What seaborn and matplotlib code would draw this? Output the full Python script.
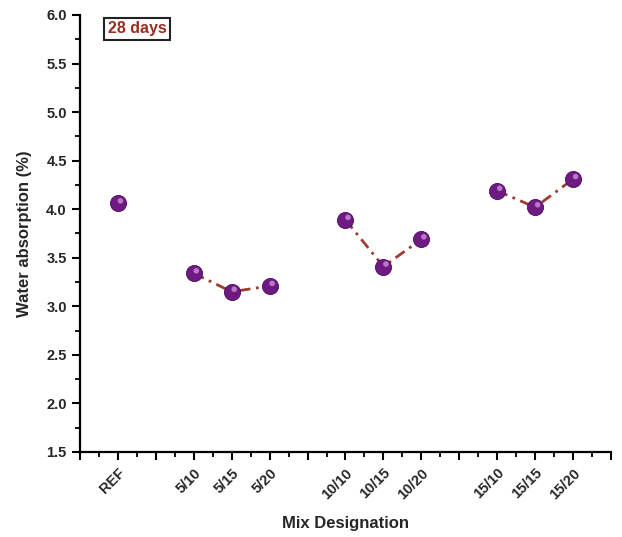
import matplotlib
matplotlib.use("Agg")
import matplotlib.pyplot as plt
import matplotlib.transforms as mtransforms
from matplotlib.ticker import MultipleLocator
import seaborn as sns
import pandas as pd

mixes = ["REF", "5/10", "5/15", "5/20", "10/10", "10/15", "10/20", "15/10", "15/15", "15/20"]
positions = [1, 3, 4, 5, 7, 8, 9, 11, 12, 13]
groups = ["REF", "5", "5", "5", "10", "10", "10", "15", "15", "15"]
absorption = [4.06, 3.34, 3.15, 3.21, 3.89, 3.41, 3.69, 4.19, 4.02, 4.31]

df = pd.DataFrame({"mix": mixes, "pos": positions, "group": groups, "wa": absorption})

sns.set_theme(style="ticks")
plt.rcParams["font.family"] = ["Liberation Sans", "DejaVu Sans"]

fig = plt.figure(figsize=(6.22, 5.37), dpi=100)
ax = fig.add_axes([0.1286, 0.1583, 0.8537, 0.8138])

line_df = df[df["group"] != "REF"]
sns.lineplot(data=line_df, x="pos", y="wa", hue="group", palette=["#9c3d2f"] * 3,
             sort=False, estimator=None, legend=False, ax=ax, linewidth=2.0,
             linestyle=(0, (4, 2, 1, 2)), zorder=2)

sns.scatterplot(data=df, x="pos", y="wa", color="#6e1a82", s=135, edgecolor="#4a0d5a",
                linewidth=0.6, ax=ax, zorder=3, legend=False)
hl = mtransforms.offset_copy(ax.transData, fig=fig, x=1.8, y=1.8, units="points")
ax.scatter(df["pos"], df["wa"], s=16, color="#c88ad6", edgecolor="none", zorder=4,
           transform=hl, alpha=0.85)

ax.set_xlim(0, 14)
ax.set_ylim(1.5, 6.0)
ax.xaxis.set_minor_locator(MultipleLocator(0.5))
ax.yaxis.set_minor_locator(MultipleLocator(0.25))

labels = {p: m for p, m in zip(positions, mixes)}
xt = list(range(0, 15))
ax.set_xticks(xt)
ax.set_xticklabels([labels.get(t, "") for t in xt],
                   rotation=45, ha="right", rotation_mode="anchor", fontsize=10.5, fontweight="bold")
yt = [1.5, 2.0, 2.5, 3.0, 3.5, 4.0, 4.5, 5.0, 5.5, 6.0]
ax.set_yticks(yt)
ax.set_yticklabels([f"{v:.1f}" for v in yt], fontsize=10.5, fontweight="bold")
ax.set_xlim(0, 14)
ax.set_ylim(1.5, 6.0)

ax.tick_params(which="major", direction="out", length=6, width=1.5, color="black")
ax.tick_params(which="minor", direction="out", length=3.5, width=1.3, color="black")
ax.tick_params(axis="x", pad=4)
for s in ["top", "right"]:
    ax.spines[s].set_visible(False)
for s in ["left", "bottom"]:
    ax.spines[s].set_linewidth(1.6)
    ax.spines[s].set_color("black")

ax.set_xlabel("Mix Designation", fontsize=12, fontweight="bold", labelpad=10)
ax.set_ylabel("Water absorption (%)", fontsize=12, fontweight="bold", labelpad=10)

ax.text(0.052, 0.968, "28 days", transform=ax.transAxes, fontsize=11.5, fontweight="bold",
        color="#9b2d20", ha="left", va="center",
        bbox=dict(boxstyle="square,pad=0.22", facecolor="white", edgecolor="#222222", linewidth=1.5))

fig.savefig("out.png", dpi=100)
